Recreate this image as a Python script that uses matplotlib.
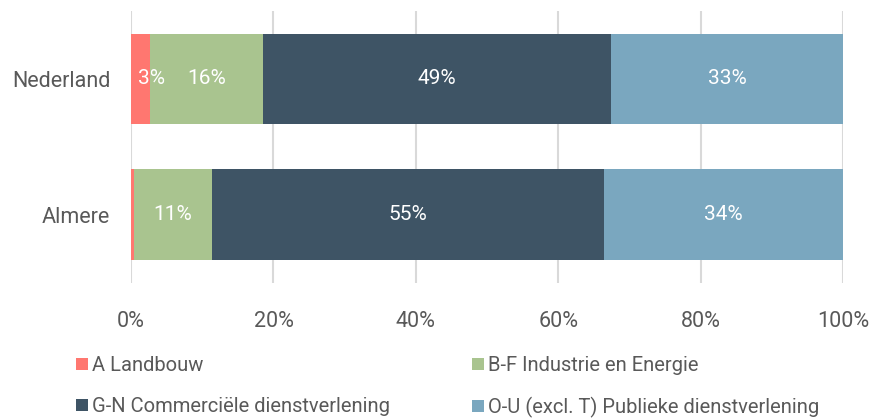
import matplotlib
matplotlib.use('Agg')
import matplotlib.pyplot as plt
import numpy as np

plt.rcParams['font.family'] = ['Roboto', 'DejaVu Sans']

# data (aandeel werkgelegenheid per sector, %)
regios = ['Nederland', 'Almere']
sectoren = ['A Landbouw', 'B-F Industrie en Energie',
            'G-N Commerciële dienstverlening', 'O-U (excl. T) Publieke dienstverlening']
landbouw = [2.6, 0.4]
industrie = [15.9, 10.9]
commercieel = [48.9, 55.1]
publiek = [32.6, 33.6]
kleuren = ['#FF7770', '#A9C48F', '#3E5465', '#7AA7BF']
xticks = [0, 20, 40, 60, 80, 100]

grijs = '#595959'

fig = plt.figure(figsize=(8.74, 4.19), dpi=100)
ax = fig.add_axes([0.150, 0.325, 0.8145, 0.649])

y = np.arange(len(regios))
links = np.zeros(len(regios))
balken = []
for naam, waarden, kleur in zip(sectoren, [landbouw, industrie, commercieel, publiek], kleuren):
    waarden = np.array(waarden)
    b = ax.barh(y, waarden, left=links, height=0.667, color=kleur, label=naam, zorder=2)
    balken.append(b)
    for i, w in enumerate(waarden):
        if w >= 1:
            xpos = max(links[i] + w / 2, 2.8)
            ax.text(xpos, y[i], '%d%%' % round(w), color='white', fontsize=15,
                    ha='center', va='center', zorder=3)
    links = links + waarden

ax.set_xlim(0, 100)
ax.set_ylim(1.5, -0.5)
ax.set_yticks(y)
ax.set_yticklabels(regios)
ax.set_xticks(xticks)
ax.set_xticklabels(['%d%%' % t for t in xticks])
ax.tick_params(length=0, colors=grijs, labelsize=15.5)
ax.tick_params(axis='x', pad=20)
ax.tick_params(axis='y', pad=15)
ax.grid(axis='x', color='#D9D9D9', linewidth=1.5, zorder=0)
for s in ax.spines.values():
    s.set_visible(False)

# legenda rij voor rij: A, B-F / G-N, O-U
volgorde = [0, 2, 1, 3]
leg = ax.legend([balken[i] for i in volgorde], [sectoren[i] for i in volgorde],
                loc='upper left', bbox_to_anchor=(-0.0885, -0.240), ncol=2, frameon=False,
                fontsize=14.5, handlelength=0.58, handleheight=0.58, handletextpad=0.2,
                columnspacing=4.1, labelspacing=1.08, labelcolor=grijs, borderaxespad=0)

fig.savefig('out.png', dpi=100)
